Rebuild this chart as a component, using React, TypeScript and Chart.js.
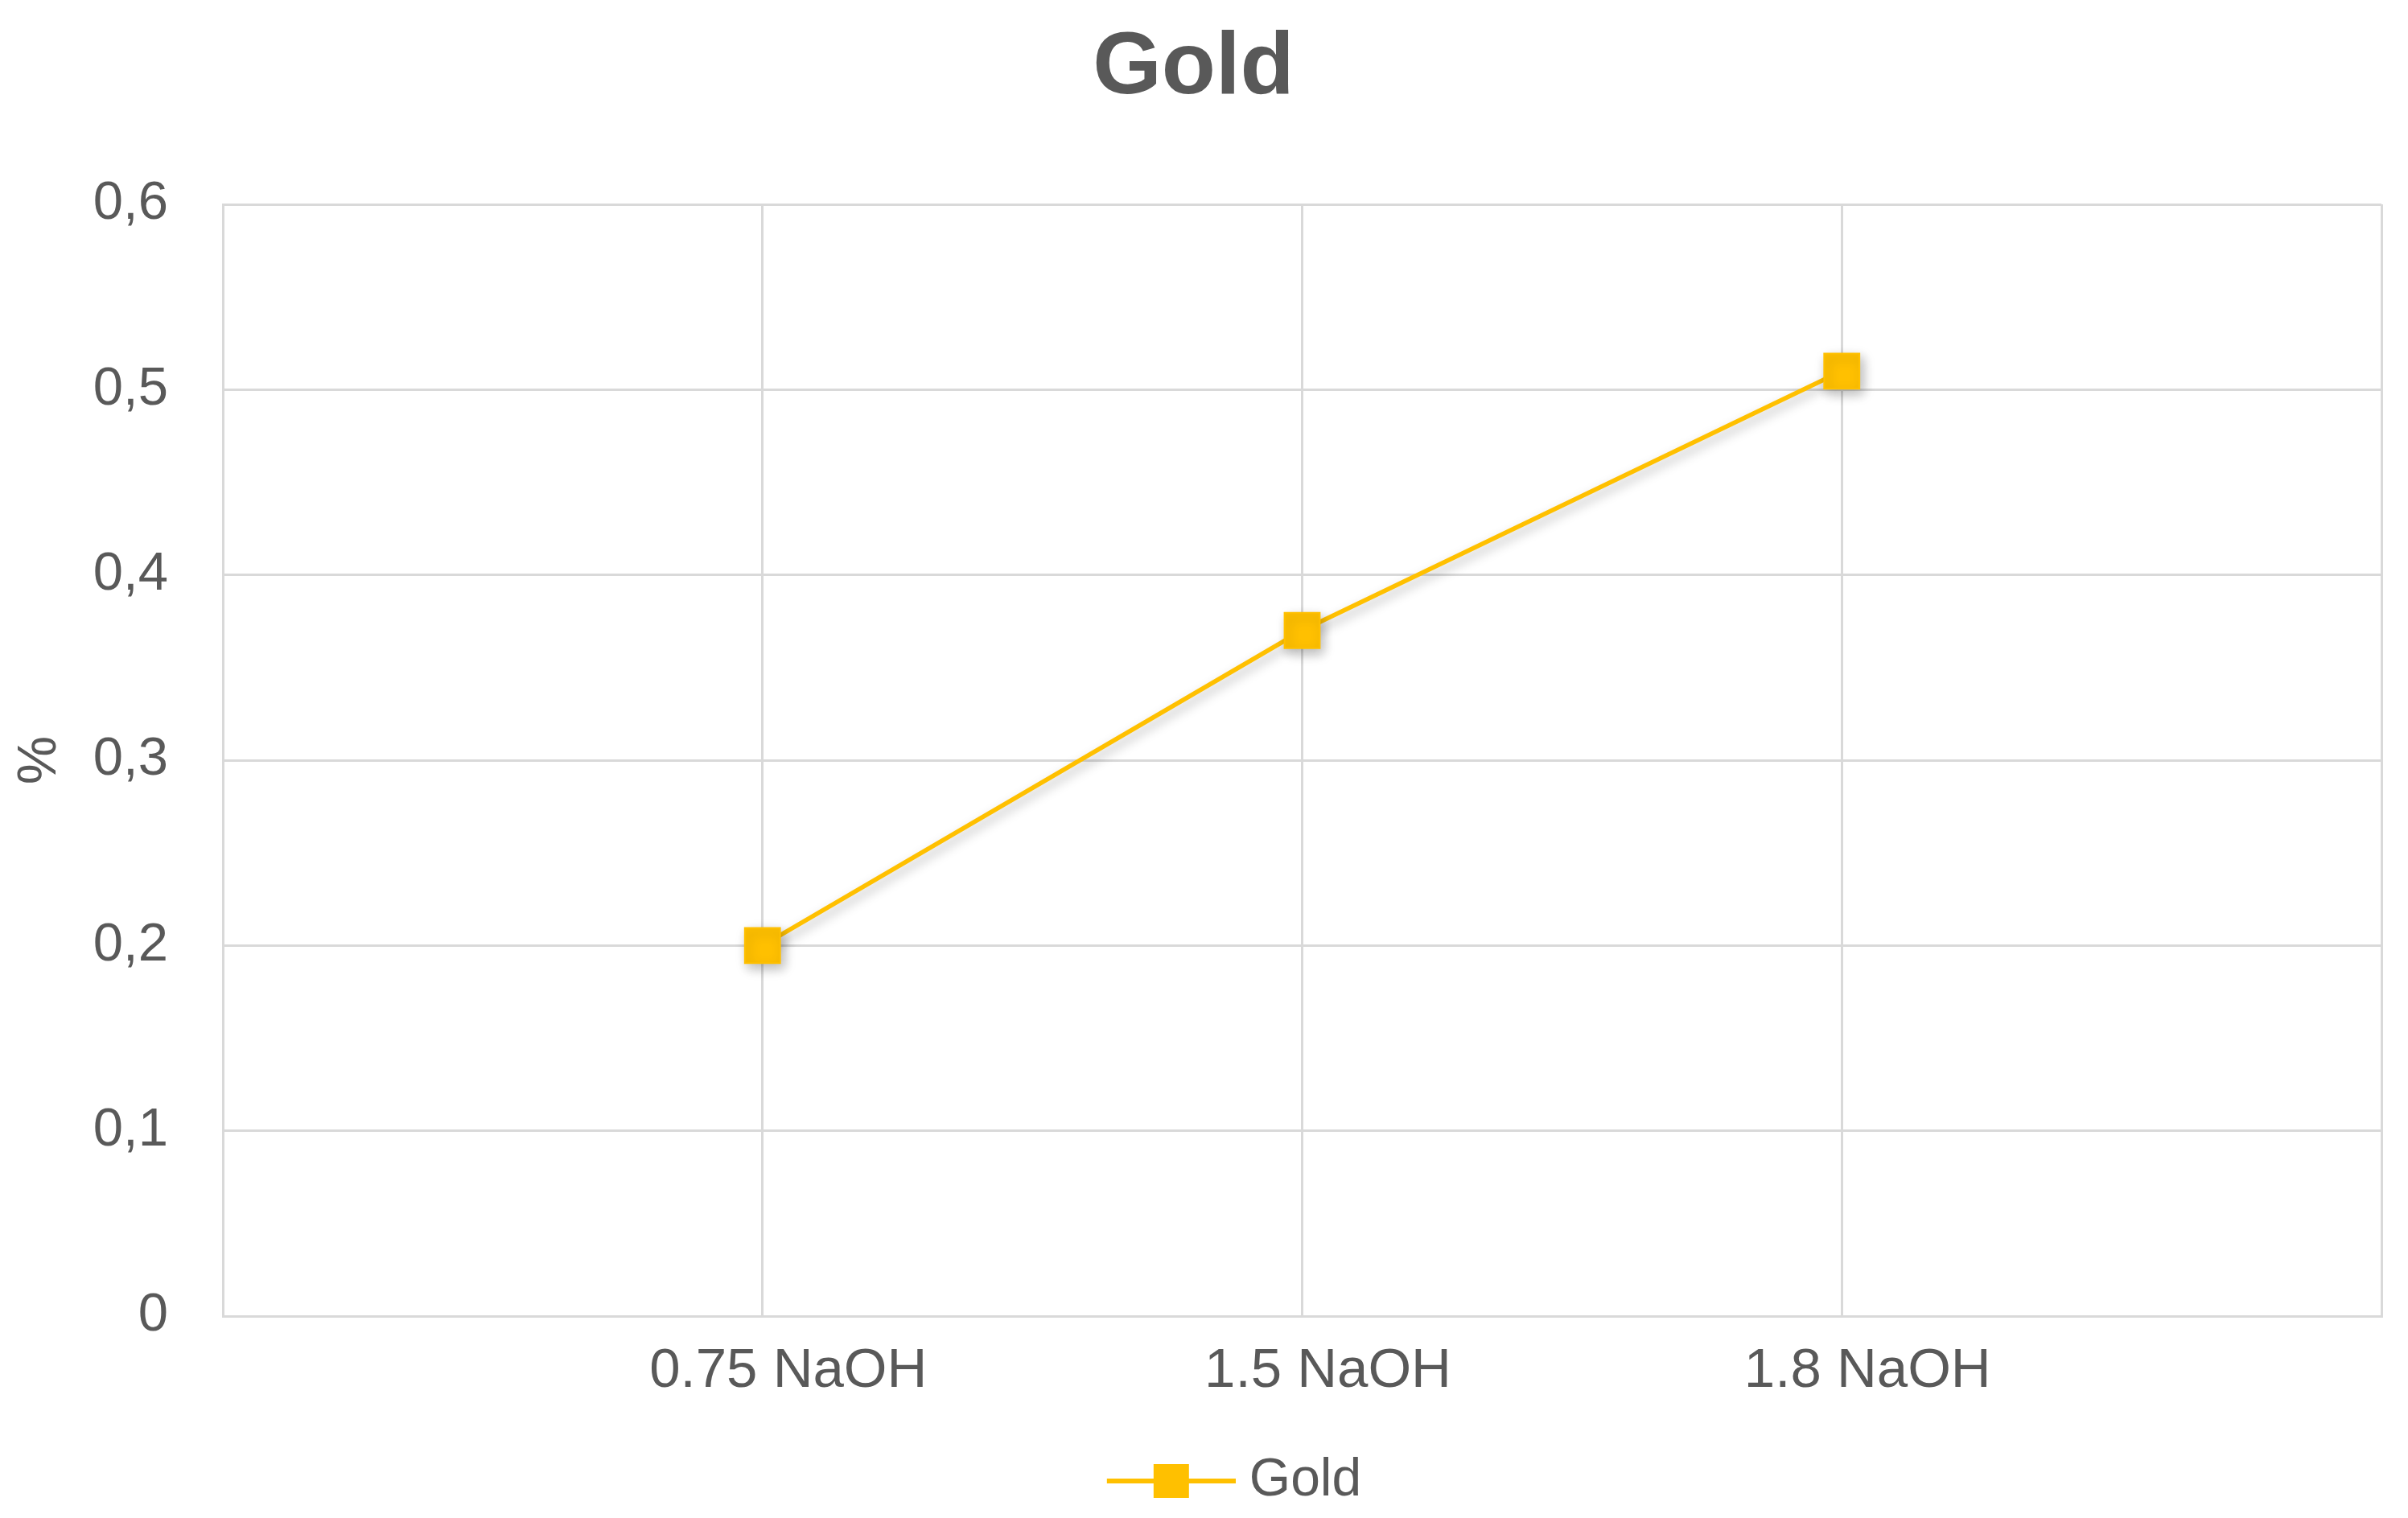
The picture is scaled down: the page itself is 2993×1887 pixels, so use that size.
import { useEffect, useRef } from 'react';
import { Chart, registerables } from 'chart.js';

Chart.register(...registerables);

// ---- data ----
const xLabels = ['', '0.75 NaOH', '1.5 NaOH', '1.8 NaOH', ''];
const goldValues: (number | null)[] = [null, 0.2, 0.37, 0.51, null];
const yTickLabels = ['0', '0,1', '0,2', '0,3', '0,4', '0,5', '0,6'];
const seriesName = 'Gold';
const chartTitle = 'Gold';
const yTitle = '%';

// ---- styles ----
const GOLD = '#FFC000';
const TEXT = '#595959';
const GRID = '#D9D9D9';
const FONT = "'Liberation Sans', Arial, sans-serif";

export default function App() {
  const ref = useRef<HTMLCanvasElement>(null);

  useEffect(() => {
    const canvas = ref.current!;

    // legend icon: line with square marker (box width 245, overflow 16px right)
    const boxW = 245;
    const icon = document.createElement('canvas');
    icon.width = boxW + 32;
    icon.height = 50;
    const g = icon.getContext('2d')!;
    const lineEnd = boxW + 32;
    const lineStart = lineEnd - 160;
    g.strokeStyle = GOLD;
    g.lineWidth = 6;
    g.beginPath();
    g.moveTo(lineStart, 25);
    g.lineTo(lineEnd, 25);
    g.stroke();
    g.fillStyle = GOLD;
    g.fillRect((lineStart + lineEnd) / 2 - 22, 25 - 21, 44, 42);

    const shadowPlugin = {
      id: 'shadow',
      beforeDatasetsDraw(chart: any) {
        const ctx = chart.ctx;
        ctx.save();
        ctx.shadowColor = 'rgba(0,0,0,0.28)';
        ctx.shadowBlur = 14;
        ctx.shadowOffsetX = 4;
        ctx.shadowOffsetY = 6;
      },
      afterDatasetsDraw(chart: any) {
        chart.ctx.restore();
      },
    };

    const chart = new Chart(canvas, {
      type: 'line',
      data: {
        labels: xLabels,
        datasets: [
          {
            label: seriesName,
            data: goldValues,
            borderColor: GOLD,
            backgroundColor: GOLD,
            borderWidth: 5.5,
            pointStyle: 'rect',
            pointRadius: 31,
            pointBorderWidth: 2,
            pointBorderColor: GOLD,
            pointBackgroundColor: GOLD,
            spanGaps: false,
            tension: 0,
          },
        ],
      },
      plugins: [shadowPlugin],
      options: {
        responsive: false,
        devicePixelRatio: 1,
        animation: false,
        layout: { padding: { left: 0, right: 26, top: 0, bottom: 3 } },
        plugins: {
          title: {
            display: true,
            text: chartTitle,
            color: TEXT,
            font: { family: FONT, size: 110, weight: 'bold' },
            padding: { top: 20, bottom: 102 },
          },
          legend: {
            position: 'bottom',
            labels: {
              usePointStyle: true,
              pointStyleWidth: boxW,
              padding: 10,
              color: TEXT,
              font: { family: FONT, size: 66 },
              generateLabels: (c: any) => {
                const items = (Chart.defaults.plugins.legend.labels as any).generateLabels(c);
                return items.map((it: any) => ({ ...it, pointStyle: icon, fontColor: TEXT }));
              },
            },
          },
          tooltip: { enabled: false },
        },
        scales: {
          x: {
            type: 'category',
            offset: false,
            grid: { color: GRID, lineWidth: 3, drawTicks: false },
            border: { color: GRID, width: 3 },
            ticks: {
              color: TEXT,
              font: { family: FONT, size: 69 },
              padding: 28,
              labelOffset: 32,
              maxRotation: 0,
              autoSkip: false,
            },
            afterFit: (s: any) => {
              s.height = 162;
            },
          },
          y: {
            min: 0,
            max: 0.6,
            grid: { color: GRID, lineWidth: 3, drawTicks: false },
            border: { color: GRID, width: 3 },
            ticks: {
              stepSize: 0.1,
              color: TEXT,
              font: { family: FONT, size: 67 },
              padding: 68,
              callback: (_v: any, i: number) => yTickLabels[i],
            },
            title: {
              display: true,
              text: yTitle,
              color: TEXT,
              font: { family: FONT, size: 68 },
              padding: { top: 9, bottom: 0 },
            },
            afterFit: (s: any) => {
              s.width = 277;
            },
          },
        },
      },
    } as any);

    return () => chart.destroy();
  }, []);

  return (
    <div style={{ position: 'fixed', left: 0, top: 0, width: 2993, height: 1887, background: '#fff' }}>
      <canvas ref={ref} width={2993} height={1887} style={{ display: 'block' }} />
    </div>
  );
}
